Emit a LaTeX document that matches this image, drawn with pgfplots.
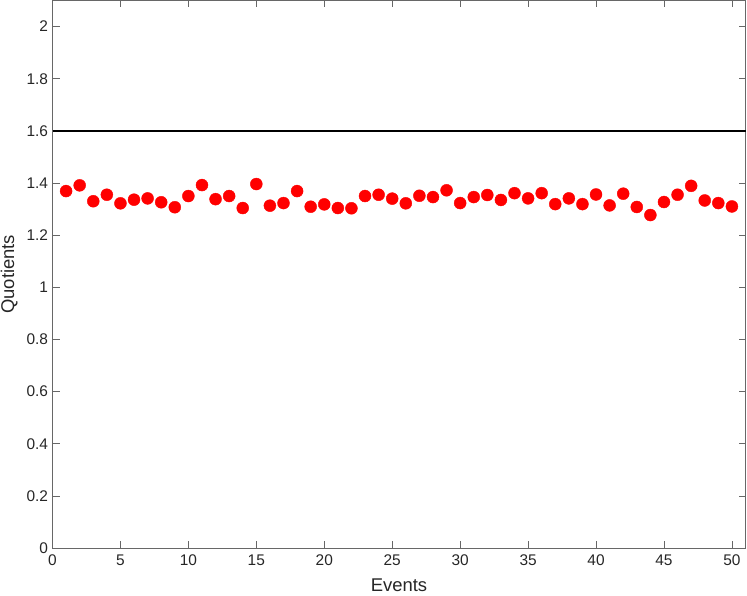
\documentclass[border=0pt]{standalone}
\usepackage{pgfplots}
\pgfplotsset{compat=1.18}
\usepackage{fontspec}
\setmainfont{Liberation Sans}
\definecolor{axgray}{RGB}{38,38,38}
\begin{document}
\begin{tikzpicture}[x=1bp,y=1bp]
\begin{axis}[
  at={(52.5bp,48bp)}, anchor=south west,
  scale only axis,
  width=693bp, height=547.5bp,
  xmin=0, xmax=51, ymin=0, ymax=2.1,
  xtick={0,5,...,50},
  ytick={0,0.2,...,2.01},
  yticklabels={0,0.2,0.4,0.6,0.8,1,1.2,1.4,1.6,1.8,2},
  tick align=inside,
  major tick length=7bp,
  axis line style={draw=axgray!70, line width=0.6bp},
  tick style={draw=axgray!70, line width=0.6bp},
  ticklabel style={font=\fontsize{15.5}{18}\selectfont, text=axgray},
  xticklabel style={yshift=-3bp},
  yticklabel style={xshift=-1bp},
  /pgf/number format/assume math mode=true,
  xlabel={Events}, ylabel={Quotients},
  label style={font=\fontsize{18.5}{21}\selectfont, text=axgray},
  xlabel style={yshift=-7bp},
  ylabel style={yshift=2bp},
  clip=false,
]
\addplot[black, line width=1.8bp, forget plot] coordinates {(0,1.6) (51,1.6)};
\addplot[only marks, mark=*, mark size=6bp, color=red, mark options={draw=red, fill=red}] coordinates {
(1,1.369) (2,1.391) (3,1.330) (4,1.355) (5,1.322) (6,1.336) (7,1.341) (8,1.326) (9,1.307) (10,1.350)
(11,1.392) (12,1.338) (13,1.350) (14,1.304) (15,1.396) (16,1.313) (17,1.323) (18,1.369) (19,1.309) (20,1.318)
(21,1.304) (22,1.303) (23,1.350) (24,1.355) (25,1.340) (26,1.322) (27,1.351) (28,1.346) (29,1.372) (30,1.323)
(31,1.346) (32,1.354) (33,1.335) (34,1.361) (35,1.341) (36,1.361) (37,1.319) (38,1.341) (39,1.319) (40,1.356)
(41,1.314) (42,1.359) (43,1.308) (44,1.277) (45,1.327) (46,1.355) (47,1.389) (48,1.333) (49,1.323) (50,1.310)
};
\end{axis}
\pgfresetboundingbox
\useasboundingbox (0,0) rectangle (747bp,596bp);
\end{tikzpicture}
\end{document}
